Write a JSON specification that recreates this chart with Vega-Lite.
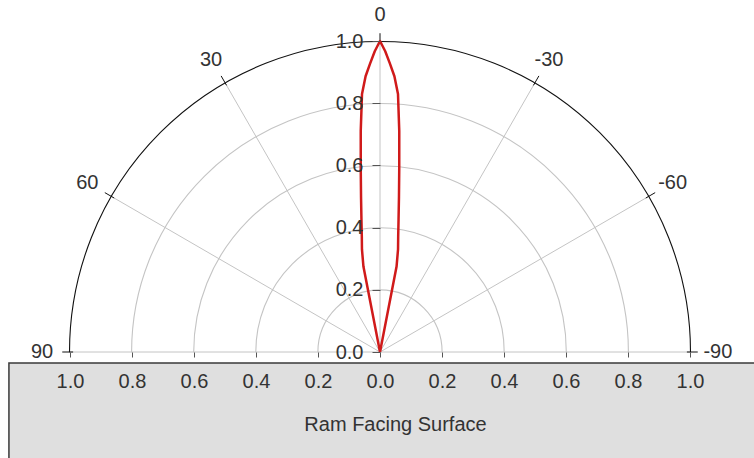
{
  "$schema": "https://vega.github.io/schema/vega-lite/v6.json",
  "width": 620,
  "height": 311,
  "autosize": {"type": "none"},
  "padding": {"left": 70, "top": 41, "right": 64, "bottom": 106},
  "background": "white",
  "config": {"view": {"stroke": null}, "font": "Liberation Sans"},
  "datasets": {
    "pattern": [
      {"angle": -12, "r": 0},
      {"angle": -11, "r": 0.28},
      {"angle": -10, "r": 0.335},
      {"angle": -9, "r": 0.375},
      {"angle": -8, "r": 0.43},
      {"angle": -7, "r": 0.502},
      {"angle": -6, "r": 0.594},
      {"angle": -5, "r": 0.713},
      {"angle": -4, "r": 0.832},
      {"angle": -3, "r": 0.888},
      {"angle": -2, "r": 0.927},
      {"angle": -1, "r": 0.967},
      {"angle": 0, "r": 1.0},
      {"angle": 1, "r": 0.967},
      {"angle": 2, "r": 0.927},
      {"angle": 3, "r": 0.888},
      {"angle": 4, "r": 0.832},
      {"angle": 5, "r": 0.713},
      {"angle": 6, "r": 0.594},
      {"angle": 7, "r": 0.502},
      {"angle": 8, "r": 0.43},
      {"angle": 9, "r": 0.375},
      {"angle": 10, "r": 0.335},
      {"angle": 11, "r": 0.28},
      {"angle": 12, "r": 0}
    ],
    "spokes": [
      {"angle": -90, "r": 0}, {"angle": -90, "r": 1},
      {"angle": -60, "r": 0}, {"angle": -60, "r": 1},
      {"angle": -30, "r": 0}, {"angle": -30, "r": 1},
      {"angle": 0, "r": 0}, {"angle": 0, "r": 1},
      {"angle": 30, "r": 0}, {"angle": 30, "r": 1},
      {"angle": 60, "r": 0}, {"angle": 60, "r": 1},
      {"angle": 90, "r": 0}, {"angle": 90, "r": 1}
    ],
    "angleTicks": [
      {"angle": -90, "r": 0.99}, {"angle": -90, "r": 1.025},
      {"angle": -60, "r": 0.99}, {"angle": -60, "r": 1.025},
      {"angle": -30, "r": 0.99}, {"angle": -30, "r": 1.025},
      {"angle": 0, "r": 0.99}, {"angle": 0, "r": 1.025},
      {"angle": 30, "r": 0.99}, {"angle": 30, "r": 1.025},
      {"angle": 60, "r": 0.99}, {"angle": 60, "r": 1.025},
      {"angle": 90, "r": 0.99}, {"angle": 90, "r": 1.025}
    ],
    "rings": [{"r": 0.2, "ring": "grid"}, {"r": 0.4, "ring": "grid"}, {"r": 0.6, "ring": "grid"}, {"r": 0.8, "ring": "grid"}, {"r": 1.0, "ring": "outer"}],
    "angleLabels": [
      {"angle": 90, "label": "90"},
      {"angle": 60, "label": "60"},
      {"angle": 30, "label": "30"},
      {"angle": 0, "label": "0"},
      {"angle": -30, "label": "-30"},
      {"angle": -60, "label": "-60"},
      {"angle": -90, "label": "-90"}
    ],
    "caption": [{"label": "Ram Facing Surface"}]
  },
  "layer": [
    {
      "data": {"name": "rings"},
      "mark": {"type": "point", "shape": "circle", "filled": false, "opacity": 1, "strokeWidth": 1.1},
      "encoding": {
        "x": {"datum": 0, "type": "quantitative", "scale": {"domain": [-1, 1], "nice": false, "zero": false},
          "axis": {
            "orient": "bottom", "title": null, "values": [-1, -0.8, -0.6, -0.4, -0.2, 0, 0.2, 0.4, 0.6, 0.8, 1],
            "labelExpr": "format(abs(datum.value), '.1f')", "domain": false, "grid": false,
            "tickSize": 5, "tickColor": "#555555", "labelFontSize": 20, "labelColor": "#333333",
            "labelPadding": 14, "labelFlush": false, "labelOverlap": false, "zindex": 1
          }
        },
        "y": {"datum": 0, "type": "quantitative", "scale": {"domain": [0, 1], "nice": false},
          "axis": {
            "orient": "left", "offset": -310, "title": null, "values": [0, 0.2, 0.4, 0.6, 0.8, 1],
            "format": ".1f", "domain": false, "grid": false, "tickSize": 8, "tickColor": "#555555",
            "labelFontSize": 20, "labelColor": "#333333", "labelPadding": 9, "labelFlush": false,
            "labelOverlap": false, "zindex": 1
          }
        },
        "size": {"field": "r", "type": "quantitative", "legend": null,
          "scale": {"type": "pow", "exponent": 2, "domain": [0, 1], "range": [0, 385641], "zero": true}},
        "stroke": {"field": "ring", "type": "nominal", "legend": null,
          "scale": {"domain": ["grid", "outer"], "range": ["#c4c4c4", "#111111"]}}
      }
    },
    {
      "data": {"name": "caption"},
      "mark": {"type": "rect", "fill": "white"},
      "encoding": {
        "x": {"datum": -1.1, "type": "quantitative", "scale": {"domain": [-1, 1], "nice": false, "zero": false}},
        "x2": {"datum": 1.1, "type": "quantitative"},
        "y": {"datum": -0.001, "type": "quantitative", "scale": {"domain": [0, 1], "nice": false}},
        "y2": {"datum": -0.04, "type": "quantitative"}
      }
    },
    {
      "data": {"name": "caption"},
      "mark": {"type": "rect", "fill": "#dfdfdf", "stroke": "#3a3a3a", "strokeWidth": 1.5},
      "encoding": {
        "x": {"datum": -1.197, "type": "quantitative", "scale": {"domain": [-1, 1], "nice": false, "zero": false}},
        "x2": {"datum": 1.3, "type": "quantitative"},
        "y": {"datum": -0.0354, "type": "quantitative", "scale": {"domain": [0, 1], "nice": false}},
        "y2": {"datum": -0.5, "type": "quantitative"}
      }
    },
    {
      "data": {"name": "spokes"},
      "transform": [
        {"calculate": "-datum.r * sin(datum.angle * PI / 180)", "as": "px"},
        {"calculate": "datum.r * cos(datum.angle * PI / 180)", "as": "py"}
      ],
      "mark": {"type": "line", "color": "#c4c4c4", "strokeWidth": 1},
      "encoding": {
        "x": {"field": "px", "type": "quantitative", "scale": {"domain": [-1, 1], "nice": false, "zero": false}},
        "y": {"field": "py", "type": "quantitative", "scale": {"domain": [0, 1], "nice": false}},
        "detail": {"field": "angle", "type": "nominal"},
        "order": {"field": "r", "type": "quantitative"}
      }
    },
    {
      "data": {"name": "angleTicks"},
      "transform": [
        {"calculate": "-datum.r * sin(datum.angle * PI / 180)", "as": "px"},
        {"calculate": "datum.r * cos(datum.angle * PI / 180)", "as": "py"}
      ],
      "mark": {"type": "line", "color": "#111111", "strokeWidth": 1},
      "encoding": {
        "x": {"field": "px", "type": "quantitative", "scale": {"domain": [-1, 1], "nice": false, "zero": false}},
        "y": {"field": "py", "type": "quantitative", "scale": {"domain": [0, 1], "nice": false}},
        "detail": {"field": "angle", "type": "nominal"},
        "order": {"field": "r", "type": "quantitative"}
      }
    },
    {
      "data": {"name": "pattern"},
      "transform": [
        {"calculate": "-datum.r * sin(datum.angle * PI / 180)", "as": "px"},
        {"calculate": "datum.r * cos(datum.angle * PI / 180)", "as": "py"}
      ],
      "mark": {"type": "line", "color": "#d01a1a", "strokeWidth": 2.5, "strokeJoin": "round"},
      "encoding": {
        "x": {"field": "px", "type": "quantitative", "scale": {"domain": [-1, 1], "nice": false, "zero": false}},
        "y": {"field": "py", "type": "quantitative", "scale": {"domain": [0, 1], "nice": false}},
        "order": {"field": "angle", "type": "quantitative"}
      }
    },
    {
      "data": {"name": "angleLabels"},
      "transform": [
        {"calculate": "-1.09 * sin(datum.angle * PI / 180)", "as": "lx"},
        {"calculate": "1.085 * cos(datum.angle * PI / 180)", "as": "ly"}
      ],
      "mark": {"type": "text", "fontSize": 20, "color": "#333333", "align": "center", "baseline": "middle"},
      "encoding": {
        "x": {"field": "lx", "type": "quantitative", "scale": {"domain": [-1, 1], "nice": false, "zero": false}},
        "y": {"field": "ly", "type": "quantitative", "scale": {"domain": [0, 1], "nice": false}},
        "text": {"field": "label", "type": "nominal"}
      }
    },
    {
      "data": {"name": "caption"},
      "mark": {"type": "text", "fontSize": 20, "color": "#333333", "align": "center", "baseline": "middle"},
      "encoding": {
        "x": {"datum": 0.05, "type": "quantitative", "scale": {"domain": [-1, 1], "nice": false, "zero": false}},
        "y": {"datum": -0.235, "type": "quantitative", "scale": {"domain": [0, 1], "nice": false}},
        "text": {"field": "label", "type": "nominal"}
      }
    }
  ]
}
